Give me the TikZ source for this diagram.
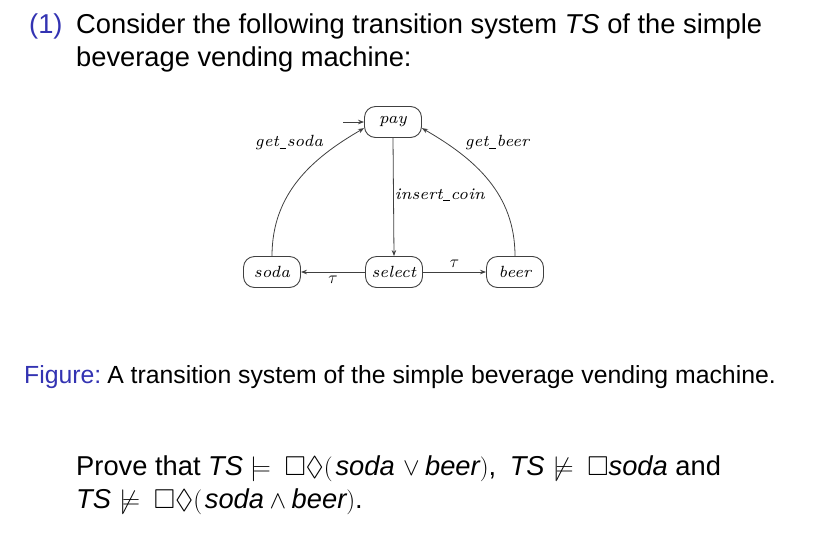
\documentclass[tikz,border=0pt]{standalone}
\usepackage{amssymb}
\usepackage{fontspec}
\newfontfamily\slidefont{Liberation Sans}
\newfontfamily\diagfont{lmroman7-italic}[Extension=.otf]
\definecolor{struct}{RGB}{51,51,178}
\usetikzlibrary{arrows.meta}
\newcommand{\us}{\kern0.5pt\rule[-1.2pt]{0.42em}{0.6pt}\kern0.5pt}
\newcommand{\sat}{\mathrel{\models}\mkern5mu}
\newcommand{\nsat}{\mkern1mu\mathrel{\not\models}\mkern5mu}
\begin{document}
\begin{tikzpicture}[x=1pt,y=-1pt,
  state/.style={draw=black!75,line width=0.9pt,rounded corners=11pt,minimum width=57pt,minimum height=31pt,inner sep=1pt,font=\diagfont\fontsize{16.2}{20}\selectfont},
  lbl/.style={font=\diagfont\fontsize{16.2}{20}\selectfont,inner sep=1pt},
  trans/.style={draw=black!75,line width=0.8pt,-{Stealth[length=6pt,width=4.5pt]}},
  slide/.style={anchor=base west,inner sep=0pt,font=\slidefont\fontsize{27.3}{33}\selectfont},
  captext/.style={anchor=base west,inner sep=0pt,font=\slidefont\fontsize{24.8}{30}\selectfont}]
\useasboundingbox (0,0) rectangle (821,544);
% text
\node[slide,text=struct] (num) at (29,33) {(1)};
\node[slide] (l1) at (76,33) {Consider the following transition system \textit{TS} of the simple};
\node[slide] (l2) at (76,66) {beverage vending machine:};
% states
\node[state] (pay) at (393,122) {pay};
\node[state] (soda) at (272,272) {soda};
\node[state] (select) at (394,272) {select};
\node[state] (beer) at (515,272) {beer};
\coordinate (init) at (343,122);
\draw[trans] (init) -- (pay.west);
\draw[trans] (pay.south) -- node[lbl,right,pos=0.48] (ic) {insert\us coin} (select.north);
\draw[trans] (select.west) -- node[lbl,below=3pt] (t1) {$\tau$} (soda.east);
\draw[trans] (select.east) -- node[lbl,above=3pt] (t2) {$\tau$} (beer.west);
\draw[trans] (soda.north) to[out=90,in=210] (pay.192);
\draw[trans] (beer.north) to[out=90,in=-30] (pay.348);
\node[lbl] (gs) at (289,143) {get\us soda};
\node[lbl] (gb) at (497,143) {get\us beer};
% caption
\node[captext] (fig) at (24,383) {\textcolor{struct}{Figure:}\kern-1pt\ A transition system of the simple beverage vending machine.};
% question
\node[slide] (q1) at (76,475) {Prove that $\textit{TS}\sat\Box\Diamond(\mkern2mu\textit{soda}\mkern2mu\vee\textit{beer})$,\kern6pt\ $\textit{TS}\nsat\Box\textit{soda}$ and};
\node[slide] (q2) at (76,508) {$\textit{TS}\nsat\Box\Diamond(\mkern2mu\textit{soda}\wedge\textit{beer})$.};
\end{tikzpicture}
\end{document}
